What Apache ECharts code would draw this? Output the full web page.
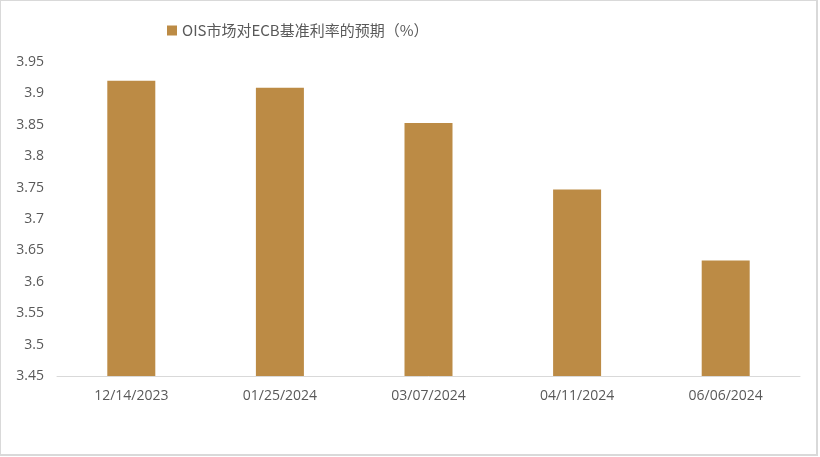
<!DOCTYPE html>
<html><head><meta charset="utf-8">
<script src="https://cdn.jsdelivr.net/npm/echarts@6/dist/echarts.min.js"></script>
<style>
html,body{margin:0;padding:0;background:#fff;}
#wrap{position:absolute;left:0;top:0;width:815px;height:453px;border:1px solid #d9d9d9;border-right-width:2px;border-bottom-width:2px;}
#c{width:815px;height:453px;}
</style></head>
<body><div id="wrap"><div id="c"></div></div>
<script>
const categories = ['12/14/2023','01/25/2024','03/07/2024','04/11/2024','06/06/2024'];
const values = [3.92, 3.909, 3.853, 3.747, 3.634];
const seriesName = 'OIS市场对ECB基准利率的预期（%）';
const yTicks = {min: 3.45, max: 3.95, interval: 0.05};

const chart = echarts.init(document.getElementById('c'));
chart.setOption({
  animation: false,
  textStyle: {fontFamily: 'Open Sans, "Noto Sans CJK SC", sans-serif'},
  legend: {
    top: 17, left: 161,
    itemWidth: 10, itemHeight: 10, itemGap: 4,
    icon: 'rect',
    textStyle: {color: '#595959', fontSize: 15, fontFamily: '"Noto Sans CJK SC", sans-serif'},
    data: [seriesName]
  },
  grid: {left: 56, right: 16, top: 61, bottom: 78, containLabel: false},
  xAxis: {
    type: 'category', data: categories,
    axisLine: {lineStyle: {color: '#d9d9d9', width: 1}},
    axisTick: {show: false},
    axisLabel: {color: '#595959', fontSize: 14, margin: 13}
  },
  yAxis: {
    type: 'value', min: yTicks.min, max: yTicks.max, interval: yTicks.interval,
    axisLine: {show: false}, axisTick: {show: false},
    splitLine: {show: false},
    axisLabel: {color: '#595959', fontSize: 14, margin: 13,
      formatter: v => String(parseFloat(v.toFixed(2)))}
  },
  series: [{
    name: seriesName, type: 'bar', data: values,
    barWidth: 48,
    itemStyle: {color: '#BC8B45'}
  }]
});
</script></body></html>
